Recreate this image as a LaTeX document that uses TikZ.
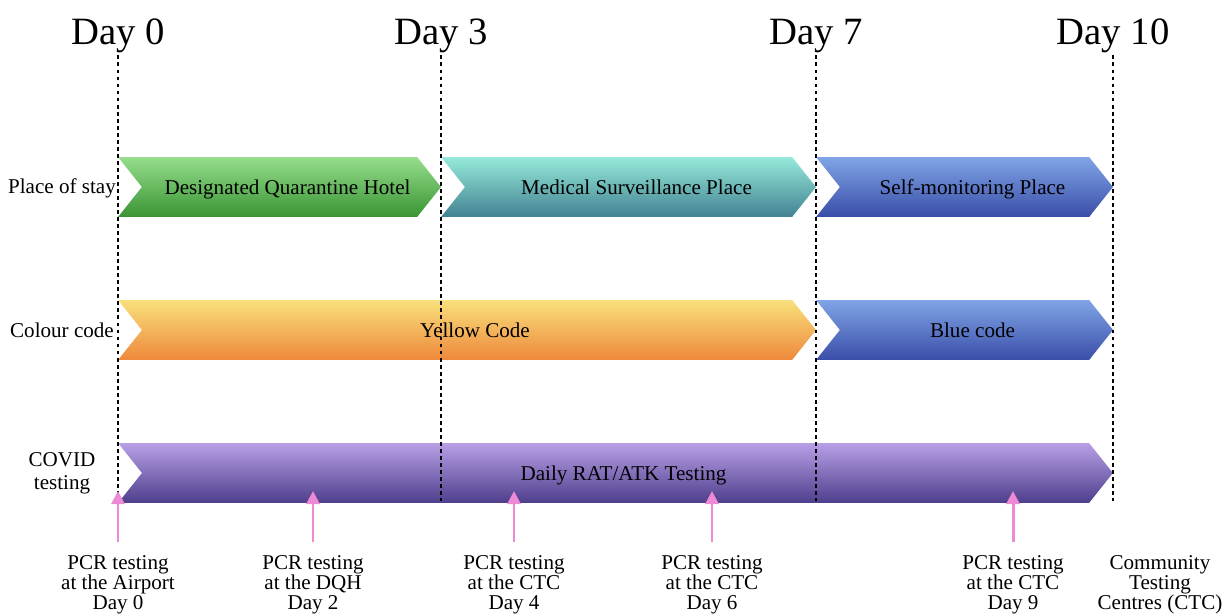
\documentclass[tikz,border=0pt]{standalone}
\usepackage{fontspec}
\setmainfont{Liberation Serif}
\usetikzlibrary{shapes.symbols,arrows.meta}

\definecolor{greentop}{RGB}{150,222,140}
\definecolor{greenbot}{RGB}{58,148,52}
\definecolor{tealtop}{RGB}{150,234,218}
\definecolor{tealbot}{RGB}{66,130,146}
\definecolor{bluetop}{RGB}{128,164,230}
\definecolor{bluebot}{RGB}{58,78,168}
\definecolor{yellowtop}{RGB}{249,224,124}
\definecolor{yellowbot}{RGB}{238,136,58}
\definecolor{purpletop}{RGB}{184,160,230}
\definecolor{purplebot}{RGB}{78,62,140}
\definecolor{pcrpink}{RGB}{236,138,214}

\begin{document}
\begin{tikzpicture}[x=0.02cm,y=-0.02cm,
  chev/.style={signal,signal to=east,signal from=west,signal pointer angle=103,minimum height=1.2cm,inner sep=0pt,outer sep=0pt},
  bartext/.style={font=\fontsize{12}{14}\selectfont,xshift=0.16cm,yshift=-1.6pt,text height=1.6ex,text depth=0.4ex},
  rowlab/.style={font=\fontsize{12}{13}\selectfont,align=center},
  daylab/.style={font=\fontsize{22}{26}\selectfont,inner sep=1pt,anchor=base},
  pcrlab/.style={font=\fontsize{12}{11.4}\selectfont,align=center,inner sep=0pt},
  vline/.style={dash pattern=on 2.2pt off 1.8pt,line width=0.8pt},
  pcrarrow/.style={-{Triangle[width=7.5pt,length=7.5pt]},line width=1.7pt,pcrpink,shorten <=0.26cm}]
	\useasboundingbox (0,0) rectangle (1228,615);

	% days
	\node[daylab] (d0) at (118,45) {Day 0};
	\node[daylab] (d3) at (441,45) {Day 3};
	\node[daylab] (d7) at (816,45) {Day 7};
	\node[daylab] (d10) at (1113,45) {Day 10};
	\coordinate (bot) at (0,501);
	\coordinate (tip) at (0,491);

	% row labels
	\node[rowlab] (stay) at (62,188) {Place of stay};
	\node[rowlab] (code) at (62,330) {Colour code};
	\node[rowlab] (test) at (62,473) {COVID\\testing};

	% place of stay
	\node[chev,minimum width=6.46cm,top color=greentop,bottom color=greenbot] (dqh) at (279.5,187) {};
	\node[chev,minimum width=7.5cm,top color=tealtop,bottom color=tealbot] (msp) at (628.5,187) {};
	\node[chev,minimum width=5.94cm,top color=bluetop,bottom color=bluebot] (smp) at (964.5,187) {};
	\node[bartext] at (dqh) {Designated Quarantine Hotel};
	\node[bartext] at (msp) {Medical Surveillance Place};
	\node[bartext] at (smp) {Self-monitoring Place};

	% colour code
	\node[chev,minimum width=13.96cm,top color=yellowtop,bottom color=yellowbot] (yc) at (467,330) {};
	\node[chev,minimum width=5.94cm,top color=bluetop,bottom color=bluebot] (bc) at (964.5,330) {};
	\node[bartext] at (yc) {Yellow Code};
	\node[bartext] at (bc) {Blue code};

	% testing
	\node[chev,minimum width=19.9cm,top color=purpletop,bottom color=purplebot] (rat) at (615.5,473) {};
	\node[bartext] at (rat) {Daily RAT/ATK Testing};

	% dashed day lines
	\foreach \d in {d0,d3,d7,d10}
		\draw[vline] (\d.south) -- (\d.south |- bot);

	% PCR tests
	\node[pcrlab] (p0) at (118,585) {PCR testing\\at the Airport\\Day 0};
	\node[pcrlab] (p2) at (313,585) {PCR testing\\at the DQH\\Day 2};
	\node[pcrlab] (p4) at (514,585) {PCR testing\\at the CTC\\Day 4};
	\node[pcrlab] (p6) at (712,585) {PCR testing\\at the CTC\\Day 6};
	\node[pcrlab] (p9) at (1013,585) {PCR testing\\at the CTC\\Day 9};
	\node[pcrlab] (ctc) at (1160,585) {Community\\Testing\\Centres (CTC)};

	\foreach \p in {p0,p2,p4,p6,p9}
		\draw[pcrarrow] (\p.north) -- (\p.north |- tip);
\end{tikzpicture}
\end{document}
